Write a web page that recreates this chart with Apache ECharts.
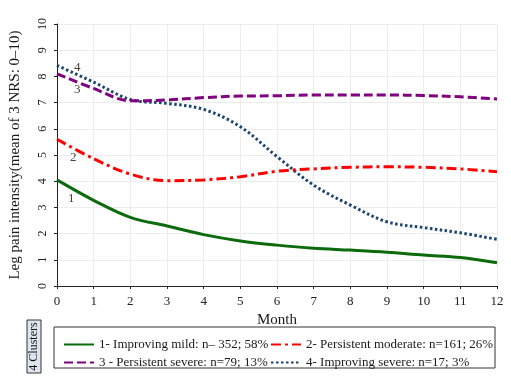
<!DOCTYPE html>
<html><head><meta charset="utf-8">
<script src="https://cdn.jsdelivr.net/npm/echarts@6/dist/echarts.min.js"></script>
<style>html,body{margin:0;padding:0;background:#fff}#c{width:511px;height:390px}</style>
</head><body><div id="c"></div>
<script>
const months = [0,1,2,3,4,5,6,7,8,9,10,11,12];
const names = ['1- Improving mild: n\u2013 352; 58%','2- Persistent moderate: n=161; 26%','3 - Persistent severe: n=79; 13%','4- Improving severe: n=17; 3%'];
const mild = [4.05,3.27,2.62,2.29,1.96,1.72,1.56,1.44,1.37,1.29,1.18,1.09,0.89];
const moderate = [5.6,4.86,4.27,4.02,4.05,4.17,4.38,4.47,4.53,4.55,4.53,4.47,4.36];
const persistSevere = [8.1,7.54,7.07,7.1,7.19,7.25,7.26,7.29,7.29,7.29,7.27,7.22,7.14];
const improvSevere = [8.42,7.78,7.12,6.97,6.74,6.08,4.94,3.85,3.09,2.45,2.23,2.03,1.78];
const yTicks = [0,1,2,3,4,5,6,7,8,9,10];
const clusterLabels = [['1',0.39,3.32],['2',0.44,4.89],['3',0.55,7.48],['4',0.55,8.32]];
const colors = ['#0b6a0b','#ff0000','#800080','#1b4470'];
const dashes = ['solid',[10,4,3,4],[9,4],[2.5,2.5]];
const values = [mild, moderate, persistSevere, improvSevere];
const serif = 'Liberation Serif';

const series = values.map((v,i)=>({
  name: names[i], type:'line', smooth:0.35, symbol:'none', showSymbol:false,
  data: months.map((m,j)=>[m,v[j]]),
  lineStyle:{color:colors[i], width:3, type:dashes[i]},
  itemStyle:{color:colors[i]},
  z: 10-i,
  markPoint:{
    symbol:'circle', symbolSize:0, silent:true,
    label:{show:true, position:'inside', color:'#4a3f35', fontFamily:serif, fontSize:13, formatter:p=>p.name},
    data:[{name:clusterLabels[i][0], coord:[clusterLabels[i][1], clusterLabels[i][2]]}]
  }
}));

const chart = echarts.init(document.getElementById('c'));
const legendCommon = {
  orient:'vertical', top:333, itemGap:5, itemWidth:30, itemHeight:12,
  textStyle:{fontFamily:serif, fontSize:13, color:'#1a1a1a'}, selectedMode:false,
  itemStyle:{opacity:0}
};
chart.setOption({
  animation:false,
  backgroundColor:'#fff',
  grid:{left:55.7, right:14, top:24, bottom:104, containLabel:false},
  xAxis:{type:'value', min:0, max:12, interval:1,
    name:'Month', nameLocation:'middle', nameGap:21,
    nameTextStyle:{fontFamily:serif, fontSize:15, color:'#1a1a1a'},
    axisLine:{show:true, lineStyle:{color:'#222', width:1}},
    axisTick:{show:true, length:3, lineStyle:{color:'#222'}},
    axisLabel:{fontFamily:serif, fontSize:13, color:'#222', margin:9},
    splitLine:{show:true, lineStyle:{color:'#ececec', width:1}}
  },
  yAxis:{type:'value', min:yTicks[0], max:yTicks[yTicks.length-1], interval:1,
    name:'Leg pain intensity(mean of 3 NRS: 0\u201310)', nameLocation:'middle', nameGap:34,
    nameTextStyle:{fontFamily:serif, fontSize:15, color:'#1a1a1a'},
    axisLine:{show:true, lineStyle:{color:'#222', width:1}},
    axisTick:{show:true, length:3, lineStyle:{color:'#222'}},
    axisLabel:{fontFamily:serif, fontSize:12, color:'#222', rotate:90, margin:8},
    splitLine:{show:true, lineStyle:{color:'#ececec', width:1}}
  },
  legend:[
    Object.assign({}, legendCommon, {left:58, data:[names[0], names[2]]}),
    Object.assign({}, legendCommon, {left:265, data:[names[1], names[3]]})
  ],
  graphic:[
    {type:'rect', shape:{x:54, y:327, width:441, height:41}, style:{fill:'none', stroke:'#333', lineWidth:1}, silent:true},
    {type:'rect', shape:{x:27, y:320, width:14, height:53}, style:{fill:'#dfe5ee', stroke:'#333', lineWidth:1}, silent:true},
    {type:'text', x:34, y:346.5, rotation:Math.PI/2, style:{text:'4 Clusters', fontFamily:serif, fontSize:12, fill:'#111', align:'center', verticalAlign:'middle'}, silent:true}
  ],
  series: series
});
</script></body></html>
